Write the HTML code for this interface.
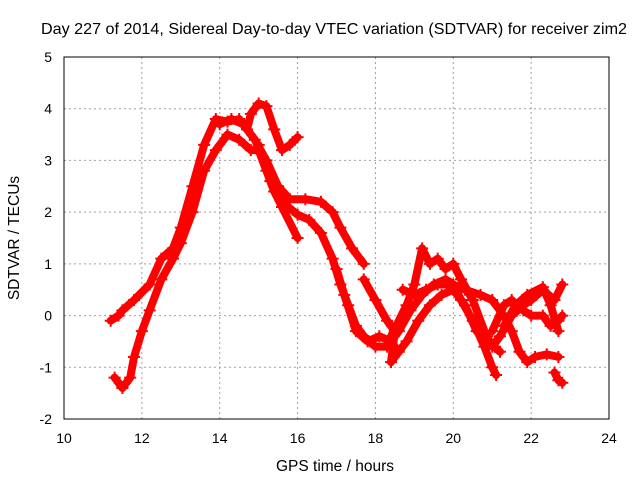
<!DOCTYPE html>
<html><head><meta charset="utf-8"><style>
body{margin:0;background:#fff}
svg{display:block;font-family:"Liberation Sans",sans-serif}
</style></head><body>
<svg id="chart" width="640" height="480">
<rect width="640" height="480" fill="#fff"/>
<text x="334" y="34" font-size="16" text-anchor="middle" textLength="586" lengthAdjust="spacingAndGlyphs">Day 227 of 2014, Sidereal Day-to-day VTEC variation (SDTVAR) for receiver zim2</text>
<text x="335" y="471" font-size="15.5" text-anchor="middle">GPS time / hours</text>
<text transform="translate(19,238) rotate(-90)" font-size="15.5" text-anchor="middle">SDTVAR / TECUs</text>
<g id="grid"></g><g id="ticks"></g><g id="series"></g>
<rect x="64" y="57" width="545" height="362" fill="none" stroke="#000" stroke-width="1"/>
</svg>
<script>
const xTicks=[10,12,14,16,18,20,22,24];
const yTicks=[-2,-1,0,1,2,3,4,5];
const s1h=[11.2,11.4,11.5,11.8,12.2,12.5,12.8,13.0,13.3,13.6,13.9,14.2,14.5,14.7,14.8,15.0,15.2,15.4,15.6,15.8,16.0];
const s1v=[-0.1,0.0,0.1,0.3,0.6,1.1,1.3,1.7,2.5,3.3,3.8,3.75,3.8,3.6,3.9,4.1,4.05,3.6,3.2,3.3,3.45];
const s2h=[11.3,11.5,11.7,11.8,12.0,12.2,12.5,12.8,13.0,13.3,13.6,13.9,14.2,14.5,14.8,15.0,15.2,15.4,15.6,16.0];
const s2v=[-1.2,-1.4,-1.2,-0.8,-0.3,0.1,0.7,1.1,1.4,2.0,2.8,3.2,3.5,3.4,3.2,3.2,2.8,2.4,2.1,1.5];
const s3h=[14.0,14.3,14.6,14.9,15.2,15.5,15.8,16.2,16.6,16.9,17.1,17.4,17.7];
const s3v=[3.7,3.8,3.7,3.4,3.0,2.5,2.25,2.25,2.2,2.0,1.7,1.3,1.0];
const s4h=[15.0,15.3,15.6,16.0,16.3,16.6,16.9,17.1,17.3,17.5,17.7,18.0,18.3,18.6,18.9,19.2,19.5,19.8,20.0,20.2,20.5,20.8,21.0,21.1];
const s4v=[3.3,2.6,2.2,1.95,1.85,1.6,1.1,0.6,0.2,-0.2,-0.4,-0.6,-0.6,-0.3,0.1,0.4,0.6,0.7,0.6,0.3,-0.1,-0.6,-1.0,-1.15];
const s5h=[17.7,18.0,18.3,18.5,18.4,18.8,19.1,19.4,19.7,20.0,20.3,20.6,20.9,21.2];
const s5v=[0.7,0.3,-0.1,-0.3,-0.9,-0.5,-0.1,0.2,0.4,0.5,0.2,-0.3,-0.5,-0.7];
const s6h=[18.4,18.8,19.0,19.2,19.4,19.6,19.8,20.0,20.2,20.5,20.8,21.0,21.2,21.5,21.8,22.0,22.3,22.6,22.8];
const s6v=[-0.4,0.2,0.6,1.3,1.0,1.1,0.9,1.0,0.7,0.3,-0.3,-0.6,-0.4,0.0,0.2,0.3,0.5,0.3,0.6];
const s7h=[18.7,19.0,19.3,19.6,20.0,20.3,20.7,21.0,21.3,21.5,21.7,21.9,22.1,22.4,22.7];
const s7v=[0.5,0.4,0.5,0.6,0.6,0.5,0.4,0.3,0.0,-0.3,-0.7,-0.9,-0.8,-0.75,-0.8];
const s8h=[21.0,21.3,21.5,21.8,22.0,22.3,22.5,22.7,22.8];
const s8v=[-0.3,0.2,0.3,0.1,0.0,0.0,-0.2,-0.1,0.0];
const s9h=[21.3,21.6,21.9,22.3,22.5,22.7];
const s9v=[-0.2,0.2,0.4,0.55,0.2,-0.3];
const s10h=[17.0,17.2,17.5,17.8,18.1,18.4,18.6];
const s10v=[0.9,0.4,-0.3,-0.5,-0.4,-0.5,-0.7];
const s11h=[22.6,22.7,22.8];
const s11v=[-1.1,-1.25,-1.3];
const seriesH=[s1h,s2h,s3h,s4h,s5h,s6h,s7h,s8h,s9h,s10h,s11h];
const seriesV=[s1v,s2v,s3v,s4v,s5v,s6v,s7v,s8v,s9v,s10v,s11v];

const NS='http://www.w3.org/2000/svg';
const X=h=>64+545*(h-10)/14;
const Y=v=>419-362*(v+2)/7;
const grid=document.getElementById('grid'),ticks=document.getElementById('ticks'),ser=document.getElementById('series');
function mk(tag,attrs,parent){const e=document.createElementNS(NS,tag);for(const k in attrs)e.setAttribute(k,attrs[k]);parent.appendChild(e);return e;}
xTicks.forEach(t=>{
  if(t>10&&t<24){const g=mk('line',{x1:X(t),x2:X(t),y1:57,y2:419,stroke:'#a0a0a0','stroke-dasharray':'2,3'},grid);
  
  }
  const l=mk('text',{x:X(t),y:443,'font-size':14,'text-anchor':'middle'},ticks);l.textContent=t;
  
  
});
yTicks.forEach(t=>{
  if(t>-2&&t<5){const g=mk('line',{x1:64,x2:609,y1:Y(t),y2:Y(t),stroke:'#a0a0a0','stroke-dasharray':'2,3'},grid);
  
  }
  const l=mk('text',{x:52,y:Y(t)+5,'font-size':14,'text-anchor':'end'},ticks);l.textContent=t;
  
  
});
seriesH.forEach((hs,i)=>{
  const vs=seriesV[i];
  const pts=hs.map((h,j)=>X(h).toFixed(1)+','+Y(vs[j]).toFixed(1)).join(' ');
  const p=mk('polyline',{points:pts,fill:'none',stroke:'#ff0000','stroke-width':8,'stroke-linejoin':'round','stroke-linecap':'round'},ser);
  
  
  hs.forEach((h,j)=>{
    const x=X(h),y=Y(vs[j]);
    const m=mk('path',{d:`M${x-6},${y}H${x+6}M${x},${y-6}V${y+6}`,stroke:'#ff0000','stroke-width':2},ser);
    
    
  });
});
</script>
</body></html>
